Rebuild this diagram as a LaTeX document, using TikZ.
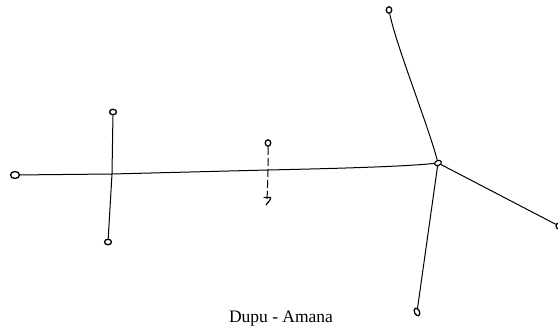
\documentclass[tikz,border=0pt]{standalone}
\usepackage{fontspec}
\setmainfont{Liberation Serif}
\usetikzlibrary{shapes.geometric}
\begin{document}
\begin{tikzpicture}[x=1pt,y=-1pt,
  link/.style={draw=black,line width=1pt},
  tip/.style={draw=black,ellipse,line width=1.3pt,inner sep=0pt,minimum width=7pt,minimum height=5.5pt,fill=white},
  hub/.style={draw=black,ellipse,line width=1.1pt,inner sep=0pt,minimum width=7pt,minimum height=5pt,rotate=20,fill=white},
  dashlink/.style={link,dash pattern=on 8pt off 3pt}]
\useasboundingbox (0,0) rectangle (558,336);
% crossing points
\coordinate (A) at (112,174);
\coordinate (M) at (268,170);
\coordinate (B2) at (267,198);
% end points
\node[tip,minimum width=9pt,minimum height=7pt] (L) at (15,175) {};
\node[tip] (T1) at (113,112) {};
\node[tip] (B1) at (108,242) {};
\node[tip,minimum width=5.5pt,minimum height=6.5pt] (T2) at (268,143) {};
\node[tip,minimum width=5.5pt,minimum height=6.5pt] (T3) at (389,10) {};
\node[tip,minimum width=5pt,minimum height=8pt,rotate=25] (B3) at (417,312) {};
\node[tip,minimum width=6pt,minimum height=6pt] (R) at (559,226) {};
\node[hub] (J) at (438,163) {};
% main line
\draw[link] (L) -- (A) -- (M) .. controls (360,168) and (410,166) .. (J);
% left cross
\draw[link] (T1) -- (A) -- (B1);
% middle dashed cross
\draw[dashlink] (T2) -- (M) -- ([yshift=-4pt]B2);
\draw[line width=1.2pt] (263.5,197.5) -- (270.5,197.5) .. controls (271,200) and (268,202) .. (266,205);
% right branches
\draw[link] (T3) .. controls (396,45) and (428,125) .. (J);
\draw[link] (J) -- (R);
\draw[link] (J) -- (B3);
% caption
\node[font=\fontsize{17.5}{17.5}\selectfont,anchor=base] (cap) at (281,323) {Dupu - Amana};
\end{tikzpicture}
\end{document}
